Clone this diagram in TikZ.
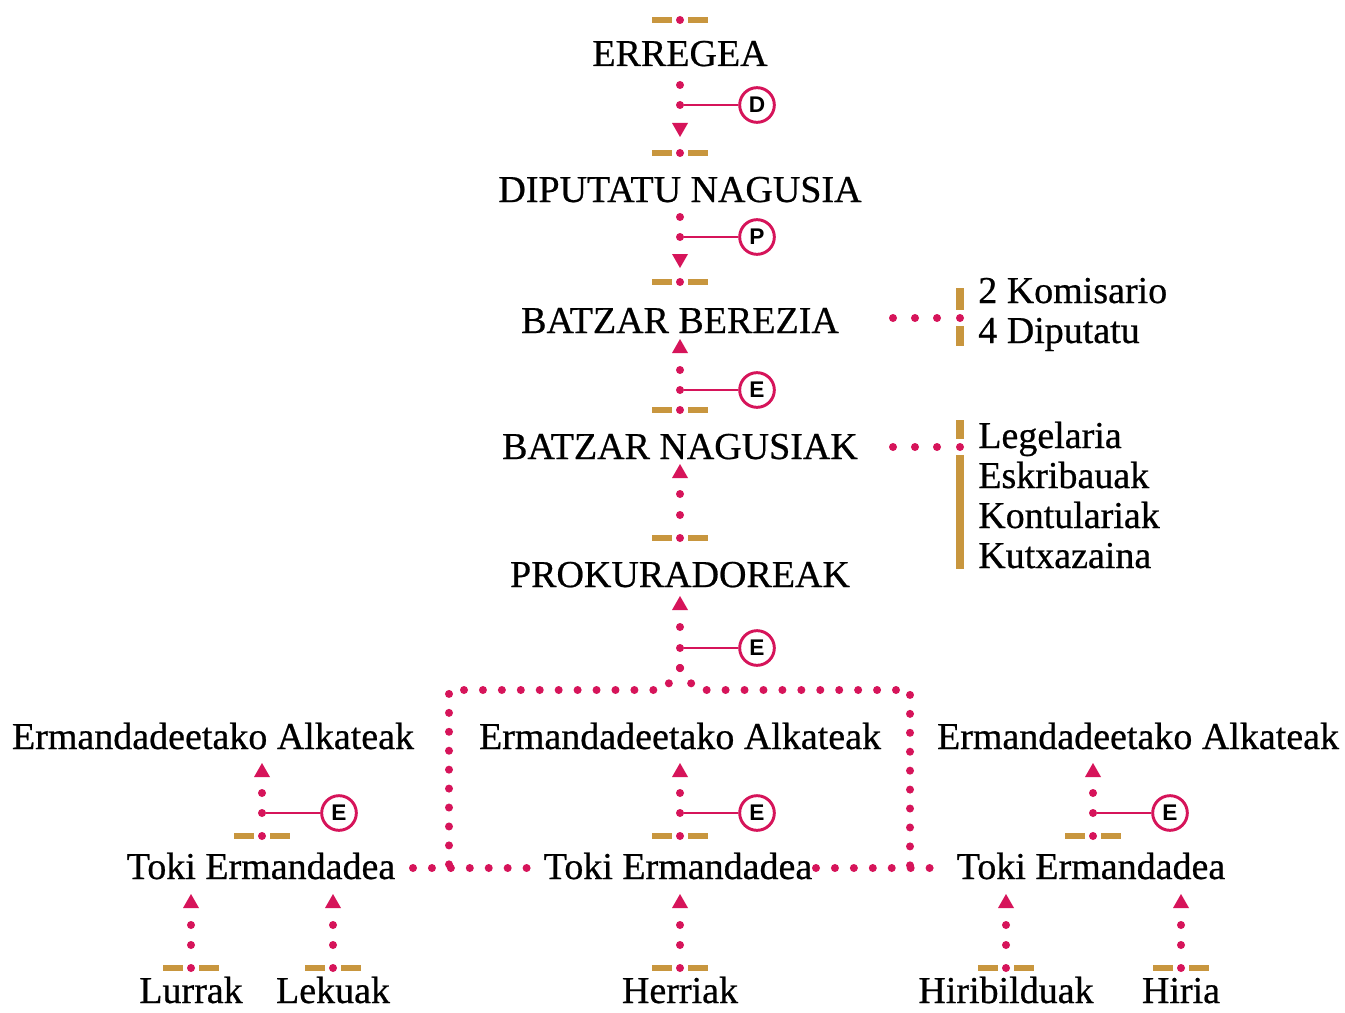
\documentclass[tikz,border=0pt]{standalone}
\usepackage{fontspec}
\setmainfont{Liberation Serif}[FakeBold=0.6]
\setsansfont{Liberation Sans}
\definecolor{pk}{HTML}{D6145A}
\definecolor{tn}{HTML}{C8963E}
\newcommand\myorn[2]{\draw[bar] (#1-28,#2)--(#1-8,#2) (#1+8,#2)--(#1+28,#2); \node[pdot] at (#1,#2) {};}
\newcommand\mytup[2]{\fill[pk] (#1-8,#2+7)--(#1+8,#2+7)--(#1,#2-7)--cycle;}
\newcommand\mytdn[2]{\fill[pk] (#1-8,#2-7)--(#1+8,#2-7)--(#1,#2+7)--cycle;}
\begin{document}
\begin{tikzpicture}[x=0.75pt,y=-0.75pt,
 lbl/.style={font=\fontsize{28.5}{34}\selectfont, inner sep=0, anchor=base},
 side/.style={font=\fontsize{28.5}{34}\selectfont, inner sep=0, anchor=base west},
 circ/.style={circle, draw=pk, line width=2.2pt, fill=white, minimum size=26pt, inner sep=0, font=\sffamily\bfseries\fontsize{17}{17}\selectfont},
 pdot/.style={circle, fill=pk, inner sep=0, minimum size=6pt},
 dline/.style={pk, line width=6pt, line cap=round, dash pattern=on 0pt off 14.2pt},
 tie/.style={pk, line width=0.9pt},
 bar/.style={tn, line width=4pt},
 sbar/.style={tn, line width=5.5pt},
]
\useasboundingbox (0,0) rectangle (1345,1013);
\fill[white] (0,0) rectangle (1345,1013);

% main column texts
\node[lbl] (erregea) at (680,66) {ERREGEA};
\node[lbl] (diputatu) at (680,202) {DIPUTATU NAGUSIA};
\node[lbl] (berezia) at (680,333) {BATZAR BEREZIA};
\node[lbl] (nagusiak) at (680,459) {BATZAR NAGUSIAK};
\node[lbl] (prok) at (680,587) {PROKURADOREAK};

% ERREGEA -> DIPUTATU
\myorn{680}{20}
\node[pdot] (a1) at (680,85) {};
\node[pdot] (a2) at (680,105) {};
\node[circ] (cD) at (757,105) {D};
\draw[tie] (a2) -- (cD);
\mytdn{680}{130}
\myorn{680}{153}

% DIPUTATU -> BEREZIA
\node[pdot] (b1) at (680,217) {};
\node[pdot] (b2) at (680,237) {};
\node[circ] (cP) at (757,237) {P};
\draw[tie] (b2) -- (cP);
\mytdn{680}{261}
\myorn{680}{282}

% NAGUSIAK -> BEREZIA
\mytup{680}{346}
\node[pdot] (c1) at (680,370) {};
\node[pdot] (c2) at (680,390) {};
\node[circ] (cE1) at (757,390) {E};
\draw[tie] (c2) -- (cE1);
\myorn{680}{410}

% PROK -> NAGUSIAK
\mytup{680}{471}
\node[pdot] (d1) at (680,494) {};
\node[pdot] (d2) at (680,515) {};
\myorn{680}{538}

% branches -> PROK
\mytup{680}{603}
\node[pdot] (e1) at (680,627) {};
\node[pdot] (e2) at (680,648) {};
\node[circ] (cE2) at (757,648) {E};
\draw[tie] (e2) -- (cE2);
\node[pdot] (e3) at (680,668) {};
\coordinate (tl) at (449,690);
\coordinate (tr) at (910,690);
\coordinate (bl) at (449,868);
\coordinate (br) at (910,868);
\draw[dline] (e3.center) -- (664,690) -- (tl) -- (bl);
\draw[dline] (e3.center) -- (696,690) -- (tr) -- (br);

% side lists
\node[pdot] at (893,318) {};
\node[pdot] at (915,318) {};
\node[pdot] at (937,318) {};
\draw[sbar] (960,288) -- (960,310) (960,326) -- (960,346);
\node[pdot] (s1) at (960,318) {};
\node[side] (kom) at (978,303) {2 Komisario};
\node[side] (dip) at (978,343) {4 Diputatu};

\node[pdot] at (893,447) {};
\node[pdot] at (915,447) {};
\node[pdot] at (937,447) {};
\draw[sbar] (960,420) -- (960,439) (960,455) -- (960,569);
\node[pdot] (s2) at (960,447) {};
\node[side] (leg) at (978,448) {Legelaria};
\node[side] (esk) at (978,488) {Eskribauak};
\node[side] (kon) at (978,528) {Kontulariak};
\node[side] (kut) at (978,568) {Kutxazaina};

% Alkateak row
\node[lbl] (alkL) at (213,749) {Ermandadeetako Alkateak};
\node[lbl] (alkC) at (680,749) {Ermandadeetako Alkateak};
\node[lbl] (alkR) at (1138,749) {Ermandadeetako Alkateak};

% Toki row
\node[lbl] (tokiL) at (261,879) {Toki Ermandadea};
\node[lbl] (tokiC) at (678,879) {Toki Ermandadea};
\node[lbl] (tokiR) at (1091,879) {Toki Ermandadea};

\draw[dline] (413,868) -- (bl) -- (541,868);
\draw[dline] (816,868) -- (br) -- (948,868);

% Toki -> Alkateak links
\foreach \x/\n in {262/L,680/C,1093/R}{
  \mytup{\x}{770}
  \node[pdot] at (\x,793) {};
  \node[pdot] (t\n) at (\x,813) {};
  \node[circ] (cT\n) at (\x+77,813) {E};
  \draw[tie] (t\n) -- (cT\n);
  \myorn{\x}{836}
}

% bottom row
\node[lbl] (lurrak) at (191,1003) {Lurrak};
\node[lbl] (lekuak) at (333,1003) {Lekuak};
\node[lbl] (herriak) at (680,1003) {Herriak};
\node[lbl] (hiribil) at (1006,1003) {Hiribilduak};
\node[lbl] (hiria) at (1181,1003) {Hiria};
\foreach \x in {191,333,680,1006,1181}{
  \mytup{\x}{901}
  \node[pdot] at (\x,925) {};
  \node[pdot] at (\x,945) {};
  \myorn{\x}{968}
}
\end{tikzpicture}
\end{document}
